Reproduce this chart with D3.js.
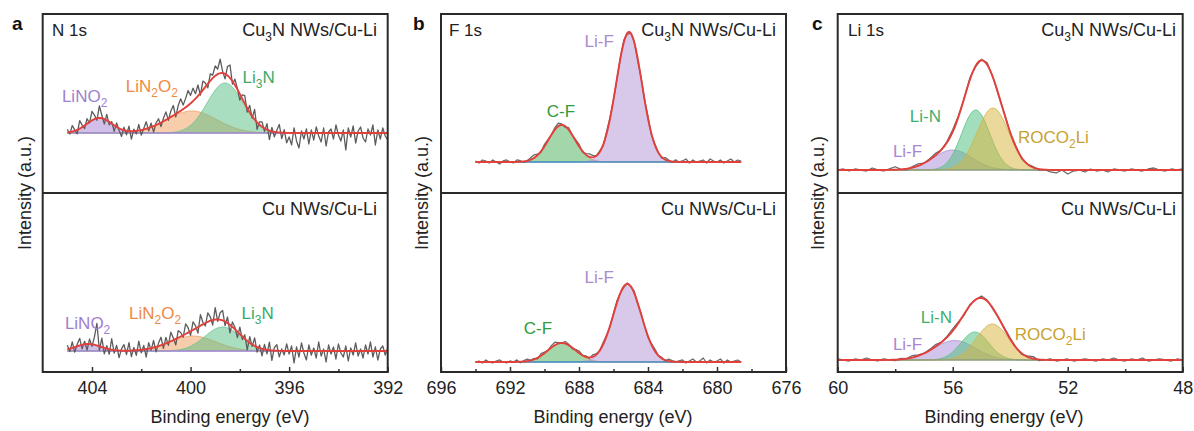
<!DOCTYPE html>
<html>
<head>
<meta charset="utf-8">
<script src="https://cdn.jsdelivr.net/npm/d3@7"></script>
<style>
  body { margin: 0; background: #ffffff; }
  svg { display: block; font-family: "Liberation Sans", Arial, Helvetica, sans-serif; }
</style>
</head>
<body>
<svg id="chart" width="1194" height="431"></svg>
<script>
// ================= DATA =================
const panelLetters = ["a", "b", "c"];
const coreLevels = ["N 1s", "F 1s", "Li 1s"];
const sampleNames = ["Cu_3N NWs/Cu-Li", "Cu NWs/Cu-Li"];
const xTitle = "Binding energy (eV)";
const yTitle = "Intensity (a.u.)";
const xDomains = [[406, 392], [696, 676], [60, 48]];
const majorTicks = [[404, 400, 396, 392], [696, 692, 688, 684, 680, 676], [60, 56, 52, 48]];
const minorTicks = [[402, 398, 394], [694, 690, 686, 682, 678], [58, 54, 50]];

// scan windows: [start eV, step eV]
const nScan = [405.0, 0.1];
const fScan = [694.0, 0.2];
const liScan = [60.0, 0.2];

// ---- N 1s fitted components (center eV, height a.u., FWHM eV)
const nPeaks = ["LiNO_2", "LiN_2O_2", "Li_3N"];
const nTopCenter = [403.7, 399.95, 398.6];
const nTopHeight = [1.5, 2.2, 5.0];
const nTopFwhm = [1.2, 2.4, 1.7];
const nBotCenter = [404.15, 399.9, 398.7];
const nBotHeight = [0.7, 1.5, 2.4];
const nBotFwhm = [1.2, 2.2, 1.7];

// ---- F 1s
const fPeaks = ["C-F", "Li-F"];
const fTopCenter = [689.0, 685.1];
const fTopHeight = [3.7, 13.0];
const fTopFwhm = [1.8, 1.75];
const fBotCenter = [689.0, 685.2];
const fBotHeight = [1.9, 7.8];
const fBotFwhm = [1.9, 1.9];

// ---- Li 1s
const liPeaks = ["Li-F", "Li-N", "ROCO_2Li"];
const liTopCenter = [56.0, 55.2, 54.6];
const liTopHeight = [2.0, 6.0, 6.2];
const liTopFwhm = [1.6, 1.15, 1.3];
const liBotCenter = [55.93, 55.23, 54.62];
const liBotHeight = [1.95, 2.8, 3.6];
const liBotFwhm = [1.7, 1.15, 1.3];

// ---- measured residuals of raw spectra around the fit (units of 0.1 a.u.)
const nTopNoise = [
  3,-2,6,1,-4,8,2,-3,5,-1,
  9,4,-2,12,3,-5,6,-3,2,-6,
  4,-2,-7,3,-4,5,-8,2,-3,6,
  -5,1,7,-3,4,-6,2,5,-4,3,
  8,-2,6,10,-3,7,12,4,9,15,
  8,13,5,11,-2,9,4,-4,7,3,
  10,5,14,2,-5,9,13,-3,6,1,
  -6,4,8,-4,7,-2,10,-7,3,5,
  -3,6,-9,4,-5,2,8,-6,3,-10,
  -4,-12,5,-8,-15,2,-6,4,-11,3,
  -7,6,-3,-9,5,-13,1,4,-6,8,
  -2,-8,3,-17,5,-4,7,-10,2,6,
  -5,-9,4,-2,8,-12,3,-6,5,-3,
  -7];
const nBotNoise = [
  4,-3,6,-5,2,7,-4,3,-6,5,
  -2,8,22,-4,9,-6,3,-5,11,-3,
  5,-7,2,6,-4,8,-6,3,-5,9,
  -3,4,-8,6,-2,7,-5,3,8,-4,
  6,-3,9,2,-6,7,4,-2,10,5,
  -4,8,3,-6,11,2,-3,9,4,-5,
  12,-2,7,10,-4,6,-8,5,2,-6,
  7,-3,4,-9,6,-2,8,-5,3,-7,
  5,-4,8,-10,3,6,-6,2,-4,7,
  -3,5,-12,4,-6,8,-2,-9,6,-4,
  3,-7,9,-5,2,-11,6,-3,4,-8,
  7,-2,-6,5,-10,3,-4,8,-5,2,
  -7,6,-3,9,-6,4,-9,2,5,-4,
  3];
const fTopNoise = [
  1,-1,2,1,-1,2,0,-2,1,2,
  0,-1,2,1,-1,0,2,3,1,-1,
  2,1,0,2,3,1,-1,2,0,1,
  2,-1,1,3,2,0,1,-1,2,1,
  0,-1,1,2,-1,0,1,-2,1,0,
  2,-1,1,0,-1,2,1,-1,2,0,
  1,3,-1,2,0,1,2,-1,3,1,
  0,2,-1,1,3,0,2,1];
const fBotNoise = [
  0,1,-1,2,0,-1,1,2,0,-1,
  1,0,2,-1,1,2,0,1,-1,2,
  1,0,2,3,1,0,2,1,-1,1,
  2,0,1,-1,2,1,0,2,1,-1,
  1,2,0,-1,1,0,2,-1,1,0,
  -1,1,2,0,1,-1,2,1,0,1,
  2,-1,1,3,0,1,4,-1,2,0,
  1,3,-1,2,0,1,2,0];
const liTopNoise = [
  0,1,-1,1,0,-1,2,0,-1,1,
  3,0,-1,1,2,0,1,2,0,1,
  2,1,0,2,-1,1,2,0,-1,1,
  0,1,-1,0,1,-1,0,-2,-3,0,
  -4,-1,0,-2,1,-1,0,-2,1,0,
  -1,1,0,-1,1,2,0,-1,1,0,
  1];
const liBotNoise = [
  1,0,-1,1,0,2,0,-1,1,0,
  -1,1,0,2,1,0,1,2,0,1,
  2,1,-1,1,0,2,1,-1,0,1,
  1,0,-1,1,2,-1,0,1,-1,0,
  1,-1,0,1,0,-1,1,0,2,0,
  -1,1,0,2,-1,0,1,0,-1,1,
  0];

// ================= LAYOUT / STYLE =================
const L = { top: 14, mid: 193, bottom: 372, lefts: [42.7, 441, 837.7], width: 345 };
const yDomains = [[-6.0, 11.9], [-2.1, 15.8], [-3.1, 14.8], [-1.0, 16.9], [-2.3, 15.6], [-1.2, 16.7]];
const compFill = [["#a685d4", "#f0a060", "#5cbf87"], ["#4fb05a", "#b497d8"], ["#a88dd6", "#4fbf7f", "#d9b53f"]];
const compStroke = [["#a58bd1", "#eea063", "#6cc494"], ["#e8803a", "#b497d8"], ["#a890d4", "#62c08a", "#d6b34a"]];
const labelColor = [["#a07fcf", "#ee8a3f", "#3aaa66"], ["#2f9b3c", "#a98bcf"], ["#a887cf", "#3eb06c", "#c8a12f"]];
const baseColor = ["#a08ad0", "#3f8cc0", "#8c9c7c"];
// peak label anchors [eV, a.u.] for each sub-panel
const labelPos = [
  [[405.22, 3.1], [402.63, 4.1], [397.89, 5.0]],
  [[405.1, 2.2], [402.5, 3.2], [397.93, 3.2]],
  [[689.87, 4.5], [687.68, 11.5]],
  [[691.2, 2.77], [687.68, 7.87]],
  [[58.08, 1.3], [57.49, 4.8], [53.73, 2.7]],
  [[58.08, 1.0], [57.11, 3.7], [53.84, 2.0]]
];
const xTitleCenters = [230, 613, 1004];
const yTitleCenters = [25, 422, 818];
const letterX = [12, 413, 812];
const coreX = [52, 449, 848];
const sampleRight = [377, 776, 1176];

// ================= BUILD =================
const subpanels = [
  { p: 0, row: 0, scan: nScan, names: nPeaks, c: nTopCenter, h: nTopHeight, w: nTopFwhm, noise: nTopNoise },
  { p: 0, row: 1, scan: nScan, names: nPeaks, c: nBotCenter, h: nBotHeight, w: nBotFwhm, noise: nBotNoise },
  { p: 1, row: 0, scan: fScan, names: fPeaks, c: fTopCenter, h: fTopHeight, w: fTopFwhm, noise: fTopNoise },
  { p: 1, row: 1, scan: fScan, names: fPeaks, c: fBotCenter, h: fBotHeight, w: fBotFwhm, noise: fBotNoise },
  { p: 2, row: 0, scan: liScan, names: liPeaks, c: liTopCenter, h: liTopHeight, w: liTopFwhm, noise: liTopNoise },
  { p: 2, row: 1, scan: liScan, names: liPeaks, c: liBotCenter, h: liBotHeight, w: liBotFwhm, noise: liBotNoise }
];

const svg = d3.select("#chart");
const K = 4 * Math.LN2;
const gauss = (x, c, h, w) => h * Math.exp(-K * (x - c) * (x - c) / (w * w));

function richText(sel, str, subSize, shift) {
  const parts = str.split(/_(\d)/);
  let subbed = false;
  parts.forEach((t, i) => {
    if (t === "") return;
    const ts = sel.append("tspan").text(t);
    if (i % 2 === 1) { ts.attr("font-size", subSize).attr("dy", shift); subbed = true; }
    else if (subbed) { ts.attr("dy", -shift); subbed = false; }
  });
}

const xScales = xDomains.map((d, p) => d3.scaleLinear().domain(d).range([L.lefts[p], L.lefts[p] + L.width]));

subpanels.forEach((sp, k) => {
  const x = xScales[sp.p];
  const y0 = sp.row === 0 ? L.top : L.mid;
  const y1 = sp.row === 0 ? L.mid : L.bottom;
  const y = d3.scaleLinear().domain(yDomains[k]).range([y1, y0]);

  const clipId = "clip" + k;
  svg.append("clipPath").attr("id", clipId).append("rect")
    .attr("x", L.lefts[sp.p]).attr("y", y0).attr("width", L.width).attr("height", y1 - y0);
  const g = svg.append("g").attr("clip-path", `url(#${clipId})`);

  const n = sp.noise.length;
  const start = sp.scan[0], step = sp.scan[1];
  const end = +(start - step * (n - 1)).toFixed(3);
  const fine = d3.range(0, Math.round((start - end) / 0.02) + 1).map(i => +(start - i * 0.02).toFixed(3));
  const fit = e => sp.c.reduce((s, c, i) => s + gauss(e, c, sp.h[i], sp.w[i]), 0);

  // components
  sp.c.forEach((c, i) => {
    const pts = fine.map(e => [e, gauss(e, c, sp.h[i], sp.w[i])]);
    g.append("path").datum(pts)
      .attr("d", d3.area().x(d => x(d[0])).y0(y(0)).y1(d => y(d[1])))
      .attr("fill", compFill[sp.p][i]).attr("fill-opacity", 0.52);
    g.append("path").datum(pts)
      .attr("d", d3.line().x(d => x(d[0])).y(d => y(d[1])))
      .attr("fill", "none").attr("stroke", compStroke[sp.p][i]).attr("stroke-width", 1).attr("stroke-opacity", 0.85);
  });

  // baseline
  g.append("path").datum([start, end])
    .attr("d", d3.line().x(d => x(d)).y(() => y(0)))
    .attr("stroke", baseColor[sp.p]).attr("stroke-width", 1.5).attr("fill", "none");

  // raw spectrum
  const raw = sp.noise.map((r, i) => {
    const e = +(start - i * step).toFixed(3);
    return [e, fit(e) + r / 10];
  });
  g.append("path").datum(raw)
    .attr("d", d3.line().x(d => x(d[0])).y(d => y(d[1])))
    .attr("fill", "none").attr("stroke", sp.p === 0 ? "#5c5c5c" : "#6a6a6a")
    .attr("stroke-width", 1.3).attr("stroke-linejoin", "round");

  // envelope
  g.append("path").datum(fine.map(e => [e, fit(e)]))
    .attr("d", d3.line().x(d => x(d[0])).y(d => y(d[1])))
    .attr("fill", "none").attr("stroke", "#e3403c").attr("stroke-width", 1.9);

  // peak labels
  sp.names.forEach((nm, i) => {
    const t = svg.append("text")
      .attr("x", x(labelPos[k][i][0])).attr("y", y(labelPos[k][i][1]))
      .attr("font-size", 17).attr("fill", labelColor[sp.p][i]);
    richText(t, nm, 12, 5);
  });

  // sample label
  const st = svg.append("text")
    .attr("x", sampleRight[sp.p]).attr("y", y0 + 22)
    .attr("text-anchor", "end").attr("font-size", 18).attr("fill", "#222");
  richText(st, sampleNames[sp.row], 12, 5);
});

// frames, axes, titles
xScales.forEach((x, p) => {
  const left = L.lefts[p];
  const ax = svg.append("g").attr("transform", `translate(0,${L.bottom})`);
  ax.call(d3.axisBottom(x).tickValues(majorTicks[p]).tickSize(-5).tickPadding(9).tickFormat(d3.format("d")));
  ax.attr("font-size", 18).attr("font-family", "'Liberation Sans', Arial, sans-serif");
  ax.select(".domain").remove();
  ax.selectAll("line").attr("stroke", "#333").attr("stroke-width", 1.5);
  ax.selectAll("text").attr("fill", "#222");
  const mx = svg.append("g").attr("transform", `translate(0,${L.bottom})`);
  mx.call(d3.axisBottom(x).tickValues(minorTicks[p]).tickSize(-3).tickFormat(""));
  mx.select(".domain").remove();
  mx.selectAll("line").attr("stroke", "#333").attr("stroke-width", 1.5);

  svg.append("rect").attr("x", left).attr("y", L.top).attr("width", L.width).attr("height", L.bottom - L.top)
    .attr("fill", "none").attr("stroke", "#2a2a2a").attr("stroke-width", 2);
  svg.append("line").attr("x1", left).attr("x2", left + L.width).attr("y1", L.mid).attr("y2", L.mid)
    .attr("stroke", "#2a2a2a").attr("stroke-width", 2);

  svg.append("text").attr("x", xTitleCenters[p]).attr("y", 423).attr("text-anchor", "middle")
    .attr("font-size", 18).attr("fill", "#222").text(xTitle);
  svg.append("text").attr("transform", `translate(${yTitleCenters[p]},193) rotate(-90)`)
    .attr("text-anchor", "middle").attr("dy", "0.35em")
    .attr("font-size", 18).attr("fill", "#222").text(yTitle);
  svg.append("text").attr("x", letterX[p]).attr("y", 30).attr("font-size", 19).attr("font-weight", "bold")
    .attr("fill", "#111").text(panelLetters[p]);
  svg.append("text").attr("x", coreX[p]).attr("y", 36).attr("font-size", 17).attr("fill", "#222").text(coreLevels[p]);
});
</script>
</body>
</html>
